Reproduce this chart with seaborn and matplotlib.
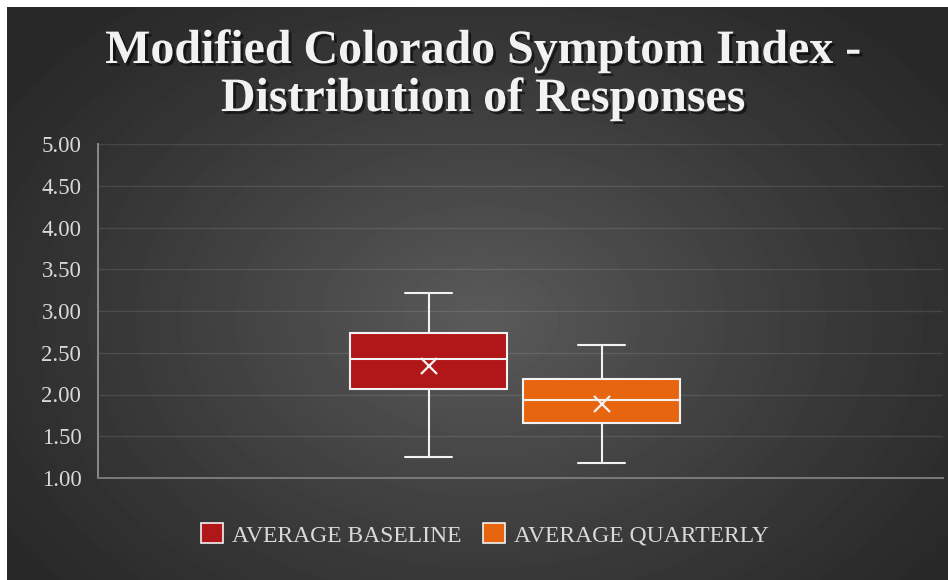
import numpy as np
import pandas as pd
import matplotlib
matplotlib.use("Agg")
import matplotlib.pyplot as plt
import matplotlib.patheffects as pe
from matplotlib.patches import Patch
import seaborn as sns

# Five-number summaries and means for each response series
series = ["AVERAGE BASELINE", "AVERAGE QUARTERLY"]
colors = ["#B11618", "#E8650F"]
whisker_low = [1.25, 1.18]
q1 = [2.07, 1.66]
median = [2.42, 1.94]
q3 = [2.74, 2.19]
whisker_high = [3.21, 2.59]
means = [2.34, 1.89]
yticks = [1.00, 1.50, 2.00, 2.50, 3.00, 3.50, 4.00, 4.50, 5.00]
title_lines = ["Modified Colorado Symptom Index -", "Distribution of Responses"]

rows = []
for i, s in enumerate(series):
    for v in (whisker_low[i], q1[i], median[i], q3[i], whisker_high[i]):
        rows.append({"group": "", "series": s, "score": v})
df = pd.DataFrame(rows)

sns.set_theme(style="dark")
plt.rcParams["font.family"] = ["Liberation Serif", "DejaVu Serif"]

W, H = 948, 580
fig = plt.figure(figsize=(W / 100, H / 100), dpi=100, facecolor="white")

# Radial dark background panel
bg = fig.add_axes([7 / W, 0, (W - 7) / W, (H - 7) / H])
gx, gy = np.meshgrid(np.arange(W - 7), np.arange(H - 7))
cx, cy = 480 - 7, 320 - 7
r = np.sqrt(((gx - cx) / 600) ** 2 + ((gy - cy) / 430) ** 2)
r = np.clip(r, 0, 1)
c_in, c_out = 0.355, 0.155
shade = c_out + (c_in - c_out) * (1 - r) ** 1.2
bg.imshow(shade, cmap="gray", vmin=0, vmax=1, aspect="auto",
          interpolation="bilinear", origin="upper")
bg.set_axis_off()

left, right = 98 / W, 943 / W
bottom, top = (H - 478) / H, (H - 144) / H
ax = fig.add_axes([left, bottom, right - left, top - bottom])
ax.set_facecolor("none")

sns.boxplot(data=df, x="group", y="score", hue="series", hue_order=series,
            palette=colors, width=0.4095, gap=0.092, whis=(0, 100),
            linecolor="#f2f2f2", linewidth=1.5, saturation=1,
            legend=False, ax=ax)

# Box centres, used to place the mean markers
box_centers = []
for patch in ax.patches:
    xs = patch.get_transform().transform(patch.get_path().vertices)[:, 0]
    xs = ax.transData.inverted().transform(
        np.column_stack([xs, np.zeros_like(xs)]))[:, 0]
    box_centers.append((xs.min() + xs.max()) / 2)

# Shorter whisker caps
cap_half = 0.0278
for line in ax.lines:
    xd = np.asarray(line.get_xdata(), dtype=float)
    yd = np.asarray(line.get_ydata(), dtype=float)
    if len(xd) == 2 and yd[0] == yd[1] and (yd[0] in whisker_low or yd[0] in whisker_high):
        c = xd.mean()
        line.set_xdata([c - cap_half, c + cap_half])

# Mean markers
for c, m in zip(box_centers, means):
    ax.plot([c], [m], marker="x", markersize=11.5, markeredgewidth=1.6,
            color="#f2f2f2", linestyle="none", zorder=5)

ax.set_xlim(-0.494, 0.506)
ax.set_ylim(1.0, 5.0)
ax.set_yticks(yticks)
ax.set_yticklabels([f"{t:.2f}" for t in yticks])
ax.tick_params(axis="y", length=0, pad=12, labelsize=16.5, labelcolor="#d9d9d9")
ax.tick_params(axis="x", length=0, labelbottom=False)
ax.set_xlabel("")
ax.set_ylabel("")
ax.grid(axis="y", color="white", alpha=0.11, linewidth=1.0)
ax.grid(axis="x", visible=False)
for side in ("top", "right"):
    ax.spines[side].set_visible(False)
ax.spines["left"].set_color("#8a8a8a")
ax.spines["left"].set_linewidth(1.4)
ax.spines["bottom"].set_color("#7a7a7a")
ax.spines["bottom"].set_linewidth(1.4)

# Title
shadow = [pe.SimplePatchShadow(offset=(2, -2), shadow_rgbFace="black", alpha=0.55),
          pe.Normal()]
for txt, yb in zip(title_lines, (63, 111)):
    fig.text(483 / W, 1 - yb / H, txt, ha="center", va="baseline",
             fontsize=34.5, fontweight="bold", color="#f2f2f2",
             path_effects=shadow)

# Legend
handles = [Patch(facecolor=c, edgecolor="#f2f2f2", linewidth=1.2) for c in colors]
fig.legend(handles, series, loc="center", bbox_to_anchor=(485 / W, 1 - 535 / H),
           ncol=2, frameon=False, fontsize=17, labelcolor="#d9d9d9",
           handlelength=0.93, handleheight=0.93, handletextpad=0.4,
           columnspacing=0.9)

fig.savefig("out.png", dpi=100, facecolor="white")
